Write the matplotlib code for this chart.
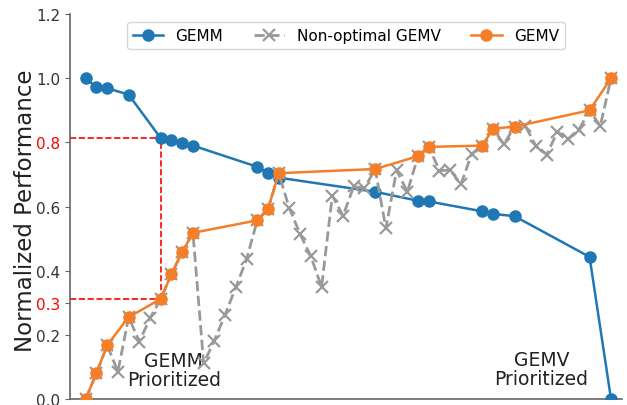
import matplotlib
matplotlib.use("Agg")
import matplotlib.pyplot as plt

# Configuration indices (x positions are ordinal indices)
sel_idx = [0, 1, 2, 4, 7, 8, 9, 10, 16, 17, 18, 27, 31, 32, 37, 38, 40, 47, 49]
gemm_perf = [1.0, 0.972, 0.969, 0.949, 0.813, 0.807, 0.798, 0.790, 0.724, 0.704,
             0.690, 0.646, 0.618, 0.616, 0.585, 0.577, 0.570, 0.443, 0.0]
gemv_perf = [0.0, 0.081, 0.168, 0.255, 0.312, 0.39, 0.458, 0.518, 0.557, 0.591,
             0.704, 0.717, 0.757, 0.786, 0.790, 0.843, 0.849, 0.900, 1.0]
all_idx = list(range(50))
nonopt_perf = [0.0, 0.081, 0.168, 0.085, 0.255, 0.179, 0.252, 0.312, 0.39, 0.458,
               0.518, 0.111, 0.182, 0.263, 0.348, 0.435, 0.557, 0.591, 0.704, 0.594,
               0.514, 0.445, 0.349, 0.634, 0.571, 0.663, 0.657, 0.717, 0.532, 0.713,
               0.646, 0.757, 0.786, 0.712, 0.714, 0.669, 0.764, 0.790, 0.843, 0.794,
               0.849, 0.852, 0.788, 0.762, 0.833, 0.810, 0.839, 0.900, 0.851, 1.0]
ytick_vals = [0.0, 0.2, 0.3, 0.4, 0.6, 0.8, 1.0, 1.2]
ytick_labels = ["0.0", "0.2", "0.3", "0.4", "0.6", "0.8", "1.0", "1.2"]
red_ticks = ["0.3", "0.8"]
mark_idx = 7

fig = plt.figure(figsize=(6.27, 4.06), dpi=100)
ax = fig.add_axes([0.1116, 0.0148, 0.88, 0.948])

ax.plot(sel_idx, gemm_perf, color="#1f77b4", marker="o", markersize=8,
        linewidth=1.8, label="GEMM", zorder=3)
ax.plot(all_idx, nonopt_perf, color="#999999", marker="x", markersize=8,
        linewidth=2, linestyle="--", markeredgewidth=1.6,
        label="Non-optimal GEMV", zorder=4)
ax.plot(sel_idx, gemv_perf, color="#f57f29", marker="o", markersize=8,
        linewidth=1.8, label="GEMV", zorder=5)

xlo, xhi = -1.47, 50.0
ax.set_xlim(xlo, xhi)
ax.set_ylim(0, 1.2)

k = sel_idx.index(mark_idx)
y_hi = gemm_perf[k]
y_lo = gemv_perf[k]
ax.plot([xlo, mark_idx], [y_hi, y_hi], color="red", linestyle="--", linewidth=1.2, zorder=2)
ax.plot([xlo, mark_idx], [y_lo, y_lo], color="red", linestyle="--", linewidth=1.2, zorder=2)
ax.plot([mark_idx, mark_idx], [y_lo, y_hi], color="red", linestyle="--", linewidth=1.2, zorder=2)

ax.set_yticks(ytick_vals)
ax.set_yticklabels(ytick_labels, fontsize=11, color="#333333")
for lbl in ax.get_yticklabels():
    if lbl.get_text() in red_ticks:
        lbl.set_color("red")
ax.set_xticks([])
ax.set_ylabel("Normalized Performance", fontsize=16.5, color="#222222")
ax.yaxis.set_label_coords(-0.059, 0.491)

for side in ["top", "right"]:
    ax.spines[side].set_visible(False)
for side in ["left", "bottom"]:
    ax.spines[side].set_color("#666666")
    ax.spines[side].set_linewidth(1.2)
ax.tick_params(axis="y", color="#666666")

ax.text(8.2, 0.09, "GEMM\nPrioritized", fontsize=13.5, ha="center", va="center",
        color="#222222", linespacing=1.0)
ax.text(42.5, 0.095, "GEMV\nPrioritized", fontsize=13.5, ha="center", va="center",
        color="#222222", linespacing=1.0)

ax.legend(loc="upper center", ncol=3, fontsize=11, frameon=True,
          bbox_to_anchor=(0.5, 1.0))

fig.savefig("out.png", dpi=100)
